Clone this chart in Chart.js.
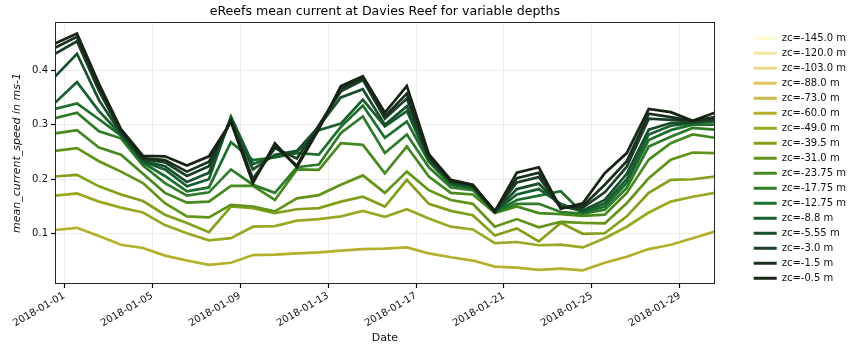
<!DOCTYPE html>
<html>
<head>
<meta charset="utf-8">
<script src="https://cdn.jsdelivr.net/npm/chart.js@4.4.1/dist/chart.umd.min.js"></script>
<style>
  html, body { margin: 0; padding: 0; background: #fff; }
  #wrap { width: 856px; height: 352px; }
</style>
</head>
<body>
<div id="wrap"><canvas id="currentChart" width="856" height="352"></canvas></div>
<script>
// daily means, stamped at midnight AEST (= 14:00 UTC the day before)
var dates = [
  '2017-12-31 14:00', '2018-01-01 14:00', '2018-01-02 14:00', '2018-01-03 14:00',
  '2018-01-04 14:00', '2018-01-05 14:00', '2018-01-06 14:00', '2018-01-07 14:00',
  '2018-01-08 14:00', '2018-01-09 14:00', '2018-01-10 14:00', '2018-01-11 14:00',
  '2018-01-12 14:00', '2018-01-13 14:00', '2018-01-14 14:00', '2018-01-15 14:00',
  '2018-01-16 14:00', '2018-01-17 14:00', '2018-01-18 14:00', '2018-01-19 14:00',
  '2018-01-20 14:00', '2018-01-21 14:00', '2018-01-22 14:00', '2018-01-23 14:00',
  '2018-01-24 14:00', '2018-01-25 14:00', '2018-01-26 14:00', '2018-01-27 14:00',
  '2018-01-28 14:00', '2018-01-29 14:00', '2018-01-30 14:00'
];
var tickDates = ['2018-01-01', '2018-01-05', '2018-01-09', '2018-01-13', '2018-01-17', '2018-01-21', '2018-01-25', '2018-01-29'];
var yTicks = [0.1, 0.2, 0.3, 0.4];

var depths = ['-145.0', '-120.0', '-103.0', '-88.0', '-73.0', '-60.0', '-49.0', '-39.5', '-31.0',
              '-23.75', '-17.75', '-12.75', '-8.8', '-5.55', '-3.0', '-1.5', '-0.5'];
var colours = ['#fefccd', '#f4e8a1', '#e9d688', '#ddc65e', '#cbb94a', '#b3b02c', '#9ba823', '#82a01b', '#63941a',
               '#46891f', '#2e7c28', '#1d6f2d', '#175f2e', '#184f2b', '#1a3f26', '#1a301f', '#172313'];

// mean current speed (m/s) per depth layer; the deepest layers are below the sea floor here
var spd145 = [];
var spd120 = [];
var spd103 = [];
var spd88 = [];
var spd73 = [];
var spd60 = [0.107, 0.111, 0.096, 0.080, 0.074, 0.060, 0.051, 0.043, 0.047, 0.061, 0.062, 0.064, 0.066, 0.069, 0.072, 0.073, 0.075, 0.064, 0.057, 0.051, 0.040, 0.038, 0.034, 0.036, 0.033, 0.047, 0.058, 0.072, 0.080, 0.092, 0.104];
var spd49 = [0.170, 0.174, 0.159, 0.148, 0.139, 0.116, 0.101, 0.088, 0.092, 0.113, 0.114, 0.124, 0.127, 0.132, 0.142, 0.131, 0.145, 0.128, 0.113, 0.108, 0.083, 0.085, 0.079, 0.080, 0.075, 0.092, 0.113, 0.139, 0.159, 0.168, 0.175];
var spd39 = [0.205, 0.208, 0.187, 0.172, 0.160, 0.135, 0.120, 0.103, 0.150, 0.147, 0.138, 0.145, 0.147, 0.159, 0.168, 0.150, 0.199, 0.155, 0.142, 0.134, 0.097, 0.110, 0.086, 0.120, 0.100, 0.101, 0.132, 0.175, 0.199, 0.200, 0.205];
var spd31 = [0.252, 0.257, 0.233, 0.214, 0.193, 0.156, 0.132, 0.130, 0.153, 0.150, 0.141, 0.165, 0.171, 0.190, 0.207, 0.175, 0.214, 0.180, 0.162, 0.155, 0.113, 0.127, 0.112, 0.122, 0.120, 0.119, 0.156, 0.202, 0.236, 0.249, 0.248];
var spd23 = [0.284, 0.290, 0.258, 0.245, 0.210, 0.175, 0.157, 0.159, 0.188, 0.188, 0.162, 0.218, 0.217, 0.266, 0.263, 0.211, 0.260, 0.205, 0.175, 0.172, 0.138, 0.150, 0.138, 0.136, 0.133, 0.135, 0.175, 0.236, 0.266, 0.282, 0.276];
var spd17 = [0.312, 0.322, 0.288, 0.275, 0.225, 0.193, 0.170, 0.176, 0.218, 0.190, 0.175, 0.222, 0.227, 0.285, 0.315, 0.248, 0.282, 0.222, 0.185, 0.180, 0.139, 0.155, 0.155, 0.140, 0.137, 0.144, 0.184, 0.260, 0.278, 0.294, 0.291];
var spd12 = [0.329, 0.339, 0.310, 0.280, 0.230, 0.206, 0.178, 0.185, 0.268, 0.235, 0.240, 0.248, 0.245, 0.296, 0.335, 0.276, 0.306, 0.232, 0.190, 0.183, 0.139, 0.162, 0.170, 0.178, 0.138, 0.150, 0.193, 0.272, 0.290, 0.300, 0.300];
var spd8 = [0.340, 0.378, 0.325, 0.282, 0.232, 0.218, 0.187, 0.200, 0.315, 0.228, 0.242, 0.250, 0.290, 0.302, 0.346, 0.297, 0.325, 0.235, 0.192, 0.185, 0.140, 0.172, 0.182, 0.155, 0.140, 0.156, 0.200, 0.282, 0.298, 0.303, 0.306];
var spd5 = [0.388, 0.430, 0.345, 0.284, 0.234, 0.224, 0.195, 0.212, 0.312, 0.218, 0.245, 0.252, 0.297, 0.350, 0.365, 0.300, 0.334, 0.237, 0.194, 0.186, 0.140, 0.182, 0.192, 0.150, 0.143, 0.162, 0.210, 0.291, 0.303, 0.304, 0.308];
var spd3 = [0.430, 0.453, 0.362, 0.287, 0.237, 0.231, 0.206, 0.224, 0.308, 0.201, 0.257, 0.238, 0.299, 0.361, 0.382, 0.311, 0.348, 0.240, 0.196, 0.188, 0.141, 0.194, 0.204, 0.148, 0.148, 0.176, 0.223, 0.311, 0.309, 0.306, 0.311];
var spd1 = [0.441, 0.461, 0.368, 0.289, 0.239, 0.235, 0.214, 0.232, 0.307, 0.197, 0.260, 0.225, 0.297, 0.366, 0.386, 0.315, 0.357, 0.242, 0.197, 0.189, 0.142, 0.202, 0.212, 0.147, 0.151, 0.190, 0.233, 0.320, 0.314, 0.307, 0.314];
var spd0 = [0.449, 0.467, 0.375, 0.292, 0.243, 0.242, 0.225, 0.242, 0.305, 0.193, 0.266, 0.222, 0.292, 0.371, 0.389, 0.322, 0.371, 0.246, 0.199, 0.190, 0.141, 0.212, 0.222, 0.146, 0.156, 0.211, 0.248, 0.329, 0.323, 0.307, 0.322];

var series = [spd145, spd120, spd103, spd88, spd73, spd60, spd49, spd39, spd31,
              spd23, spd17, spd12, spd8, spd5, spd3, spd1, spd0];

// days since 2018-01-01 00:00 UTC, used as the x value
function dayOf(s) {
    var t = Date.parse(s.replace(' ', 'T') + ':00Z');
    return (t - Date.UTC(2018, 0, 1)) / 86400000;
}

var xs = dates.map(dayOf);

var datasets = depths.map(function (d, k) {
    return {
        label: 'zc=' + d + ' m',
        data: series[k].map(function (v, i) { return { x: xs[i], y: v }; }),
        borderColor: colours[k],
        backgroundColor: colours[k],
        borderWidth: 2.7,
        pointRadius: 0,
        tension: 0,
        order: depths.length - k   // shallow layers drawn on top
    };
});

// box round the plot area
var frame = {
    id: 'frame',
    afterDatasetsDraw: function (chart) {
        var a = chart.chartArea, c = chart.ctx;
        c.save();
        c.strokeStyle = '#262626';
        c.lineWidth = 1;
        c.strokeRect(Math.round(a.left) + 0.5, Math.round(a.top) + 0.5,
                     Math.round(a.right - a.left) - 1, Math.round(a.bottom - a.top) - 1);
        c.restore();
    }
};

Chart.defaults.font.family = 'DejaVu Sans';
Chart.defaults.color = '#111';

var ctx = document.getElementById('currentChart').getContext('2d');
var myChart = new Chart(ctx, {
    type: 'line',
    data: { datasets: datasets },
    plugins: [frame],
    options: {
        responsive: false,
        animation: false,
        devicePixelRatio: 1,
        layout: { padding: 0 },
        plugins: {
            title: {
                display: true,
                text: 'eReefs mean current at Davies Reef for variable depths',
                fullSize: false,
                color: '#000',
                font: { size: 12.6, weight: 'normal' },
                padding: { top: 4, bottom: 3 }
            },
            legend: {
                position: 'right',
                align: 'start',
                title: { display: true, text: '', padding: 0, font: { size: 23.5 } },
                labels: {
                    boxWidth: 23,
                    boxHeight: 3,
                    padding: 5,
                    color: '#111',
                    font: { size: 10 },
                    sort: function (a, b) { return a.datasetIndex - b.datasetIndex; },
                    generateLabels: function (chart) {
                        var items = Chart.defaults.plugins.legend.labels.generateLabels(chart);
                        items.forEach(function (it) { it.lineWidth = 0; });
                        return items;
                    }
                }
            },
            tooltip: { enabled: false }
        },
        scales: {
            x: {
                type: 'linear',
                min: xs[0],
                max: xs[xs.length - 1],
                afterBuildTicks: function (axis) {
                    axis.ticks = tickDates.map(function (d) { return { value: dayOf(d + ' 00:00') }; });
                },
                afterFit: function (s) { s.height = 68; },
                grid: { color: '#ebebeb', tickColor: '#000', tickLength: 4, tickWidth: 1.2 },
                border: { display: false },
                ticks: {
                    autoSkip: false,
                    minRotation: 30,
                    maxRotation: 30,
                    padding: 2,
                    font: { size: 10 },
                    callback: function (v, i) { return tickDates[i]; }
                },
                title: { display: true, text: 'Date', font: { size: 11 }, padding: { top: 0, bottom: 7 } }
            },
            y: {
                min: 0.008,
                max: 0.488,
                afterBuildTicks: function (axis) {
                    axis.ticks = yTicks.map(function (v) { return { value: v }; });
                },
                afterFit: function (s) { s.width = 55; },
                grid: { color: '#ebebeb', tickColor: '#000', tickLength: 4, tickWidth: 1.2 },
                border: { display: false },
                ticks: {
                    padding: 3,
                    font: { size: 10 },
                    callback: function (v) { return v.toFixed(1); }
                },
                title: {
                    display: true,
                    text: 'mean_current_speed in ms-1',
                    font: { size: 11, style: 'italic' },
                    padding: { top: 11, bottom: 0 }
                }
            },
            gap: {
                type: 'linear',
                position: 'right',
                display: true,
                afterFit: function (s) { s.width = 34; },
                grid: { display: false },
                border: { display: false },
                ticks: { display: false }
            }
        }
    }
});
</script>
</body>
</html>
